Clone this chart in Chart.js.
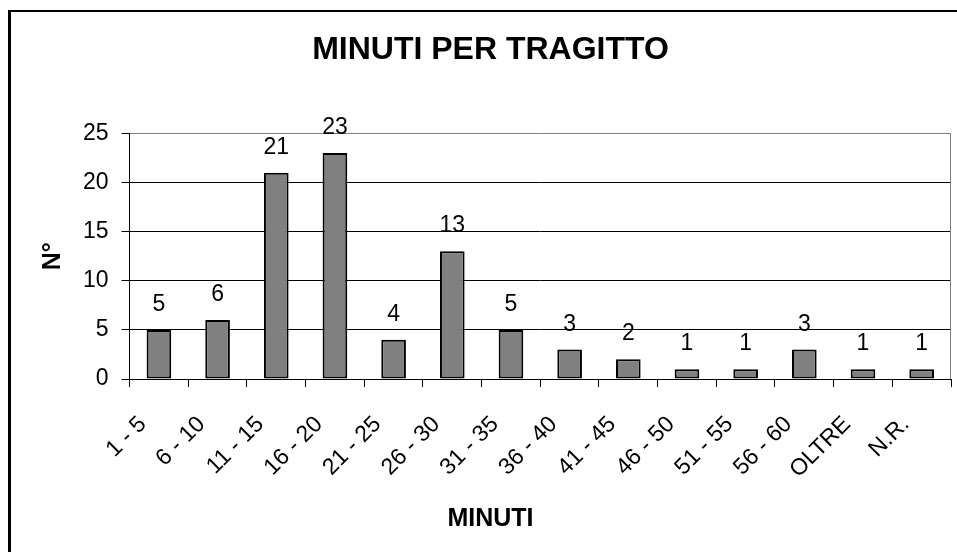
<!DOCTYPE html>
<html>
<head>
<meta charset="utf-8">
<script src="https://cdn.jsdelivr.net/npm/chart.js@4/dist/chart.umd.min.js"></script>
<style>
  html, body { margin: 0; padding: 0; background: #fff; overflow: hidden; }
  canvas { display: block; }
</style>
</head>
<body>
<canvas id="tragittoChart" width="957" height="552"></canvas>
<script>
const categories = ['1 - 5', '6 - 10', '11 - 15', '16 - 20', '21 - 25', '26 - 30', '31 - 35',
    '36 - 40', '41 - 45', '46 - 50', '51 - 55', '56 - 60', 'OLTRE', 'N.R.'];
const counts = [5, 6, 21, 23, 4, 13, 5, 3, 2, 1, 1, 3, 1, 1];
const yTicks = [0, 5, 10, 15, 20, 25];

const FONT = "'Liberation Sans', Arial, sans-serif";

// frame, right border of plot, value labels above bars
const extras = {
    id: 'extras',
    afterDraw(chart) {
        const ctx = chart.ctx;
        const area = chart.chartArea;
        ctx.save();
        ctx.fillStyle = '#000';
        ctx.fillRect(8, 10, 3, 552);
        ctx.fillRect(8, 10, 949, 2);

        ctx.strokeStyle = '#808080';
        ctx.lineWidth = 1;
        ctx.beginPath();
        ctx.moveTo(area.right - 0.5, area.top);
        ctx.lineTo(area.right - 0.5, area.bottom);
        ctx.stroke();

        ctx.fillStyle = '#000';
        ctx.font = '23px ' + FONT;
        ctx.textAlign = 'center';
        ctx.textBaseline = 'alphabetic';
        chart.getDatasetMeta(0).data.forEach((bar, i) => {
            ctx.fillText(String(counts[i]), bar.x, bar.y - 19);
        });
        ctx.restore();
    }
};

const ctx1 = document.getElementById('tragittoChart').getContext('2d');
new Chart(ctx1, {
    type: 'bar',
    data: {
        labels: categories,
        datasets: [{
            label: 'N°',
            data: counts,
            backgroundColor: '#808080',
            borderColor: '#000',
            borderWidth: 2,
            borderSkipped: false,
            barPercentage: 0.42,
            categoryPercentage: 1
        }]
    },
    options: {
        responsive: false,
        animation: false,
        layout: {
            padding: { top: 12, left: 30, right: 6, bottom: 8 }
        },
        plugins: {
            legend: { display: false },
            tooltip: { enabled: false },
            title: {
                display: true,
                text: 'MINUTI PER TRAGITTO',
                color: '#000',
                font: { family: FONT, size: 32, weight: 'bold' },
                padding: { top: 19, bottom: 64 }
            },
            subtitle: {
                display: true,
                position: 'bottom',
                text: 'MINUTI',
                color: '#000',
                font: { family: FONT, size: 25, weight: 'bold' },
                padding: { top: 0, bottom: 10 }
            }
        },
        scales: {
            x: {
                offset: true,
                afterFit(scale) {
                    scale.height = 125;
                    scale.paddingLeft = 0;
                    scale.paddingRight = 0;
                },
                grid: {
                    display: true,
                    drawOnChartArea: false,
                    offset: true,
                    color: '#000',
                    tickLength: 8
                },
                border: { color: '#000', width: 1 },
                ticks: {
                    color: '#000',
                    font: { family: FONT, size: 23 },
                    minRotation: 45,
                    maxRotation: 45,
                    padding: 24,
                    labelOffset: -16,
                    autoSkip: false
                }
            },
            y: {
                min: 0,
                max: 25,
                afterBuildTicks(scale) {
                    scale.ticks = yTicks.map(v => ({ value: v }));
                },
                grid: {
                    color: c => (c.tick && c.tick.value === 25 ? '#808080' : '#000'),
                    tickColor: '#000',
                    tickLength: 8
                },
                border: { color: '#000', width: 1 },
                ticks: {
                    color: '#000',
                    font: { family: FONT, size: 23 },
                    padding: 13
                },
                title: {
                    display: true,
                    text: 'N°',
                    color: '#000',
                    font: { family: FONT, size: 25, weight: 'bold' },
                    padding: { top: 8, bottom: 2 }
                }
            }
        }
    },
    plugins: [extras]
});
</script>
</body>
</html>
